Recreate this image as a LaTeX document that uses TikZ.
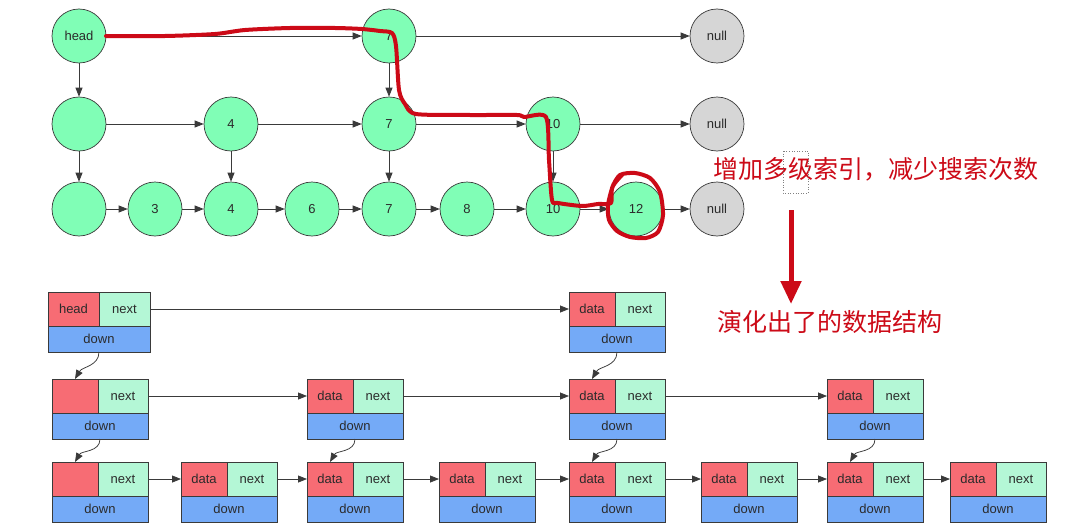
\documentclass[tikz,border=0pt]{standalone}
\usepackage{fontspec}
\setmainfont{Liberation Sans}
\newfontfamily\cjkfont{Noto Sans CJK SC}
\usepackage{xcolor}
\usetikzlibrary{arrows.meta,positioning}
\definecolor{LMint}{HTML}{80FEB6}
\definecolor{LGray}{HTML}{D6D6D6}
\definecolor{LEdge}{HTML}{3A3A3A}
\definecolor{LRed}{HTML}{F76C74}
\definecolor{LGreen}{HTML}{B4F7D6}
\definecolor{LBlue}{HTML}{74AAF7}
\definecolor{LMark}{HTML}{CC0A17}
\definecolor{LText}{HTML}{2B2B2B}
\newcommand{\skipbox}[4]{% name, left, top, data label
  \node[datacell,anchor=north west] (#1-d) at (#2,#3) {#4};
  \node[nextcell,anchor=north west] (#1-n) at (#1-d.north east) {next};
  \node[downcell,anchor=north west] (#1-w) at (#1-d.south west) {down};
}
\begin{document}
\begin{tikzpicture}[x=1pt,y=-1pt,
  every node/.style={font=\fontsize{13}{15}\selectfont,text=LText},
  knot/.style={circle,draw=LEdge,fill=LMint,line width=0.7pt,
    minimum size=54pt,inner sep=0pt},
  nil/.style={knot,fill=LGray},
  datacell/.style={draw=LEdge,fill=LRed,line width=0.7pt,minimum width=46pt,
    minimum height=34pt,inner sep=0pt,outer sep=0pt},
  nextcell/.style={datacell,fill=LGreen,minimum width=50pt},
  downcell/.style={datacell,fill=LBlue,minimum width=96pt,minimum height=26pt},
  arr/.style={-{Triangle[length=9pt,width=7pt]},line width=0.75pt,color=LEdge},
  note/.style={text=LMark,font=\cjkfont\fontsize{25}{30}\selectfont,inner sep=0pt},
  trail/.style={draw=LMark,line width=4pt,line cap=round,line join=round}
]
  \useasboundingbox[fill=white] (0,0) rectangle (1083,527);

  % skip list with index levels
  \node[knot] (k1-head) at (79,36) {head};
  \node[knot] (k1-7) at (389,36) {7};
  \node[nil] (k1-null) at (717,36) {null};

  \node[knot] (k2-0) at (79,124) {};
  \node[knot] (k2-4) at (231,124) {4};
  \node[knot] (k2-7) at (389,124) {7};
  \node[knot] (k2-10) at (553,124) {10};
  \node[nil] (k2-null) at (717,124) {null};

  \node[knot] (k3-0) at (79,209) {};
  \node[knot] (k3-3) at (155,209) {3};
  \node[knot] (k3-4) at (231,209) {4};
  \node[knot] (k3-6) at (312,209) {6};
  \node[knot] (k3-7) at (389,209) {7};
  \node[knot] (k3-8) at (467,209) {8};
  \node[knot] (k3-10) at (553,209) {10};
  \node[knot] (k3-12) at (636,209) {12};
  \node[nil] (k3-null) at (717,209) {null};

  \draw[arr] (k1-head) -- (k1-7);
  \draw[arr] (k1-7) -- (k1-null);
  \draw[arr] (k2-0) -- (k2-4);
  \draw[arr] (k2-4) -- (k2-7);
  \draw[arr] (k2-7) -- (k2-10);
  \draw[arr] (k2-10) -- (k2-null);
  \draw[arr] (k3-0) -- (k3-3);
  \draw[arr] (k3-3) -- (k3-4);
  \draw[arr] (k3-4) -- (k3-6);
  \draw[arr] (k3-6) -- (k3-7);
  \draw[arr] (k3-7) -- (k3-8);
  \draw[arr] (k3-8) -- (k3-10);
  \draw[arr] (k3-10) -- (k3-12);
  \draw[arr] (k3-12) -- (k3-null);

  \draw[arr] (k1-head) -- (k2-0);
  \draw[arr] (k2-0) -- (k3-0);
  \draw[arr] (k2-4) -- (k3-4);
  \draw[arr] (k1-7) -- (k2-7);
  \draw[arr] (k2-7) -- (k3-7);
  \draw[arr] (k2-10) -- (k3-10);

  % hand-drawn search path
  \draw[trail] plot[smooth,tension=0.45] coordinates {(106,36) (165,36)
    (215,34) (245,30) (290,28) (335,28) (362,29) (380,31) (392,33) (396,46)
    (399,90) (405,104) (416,114) (470,115) (517,115) (524,117) (546,117)
    (549,160) (552,200) (558,203) (582,206) (598,204) (611,203) (612,188)
    (620,175) (635,173) (650,178) (660,192) (663,215) (658,232) (646,238)
    (630,237) (617,231) (609,220) (608,205) (613,186) (622,175)};

  \node[note] (gain) at (876,169) {增加多级索引，减少搜索次数};
  \draw[dotted,gray,line width=0.6pt] (783,151) rectangle (808,193);
  \coordinate (evo-a) at (791,210);
  \coordinate (evo-b) at (791,304);
  \draw[LMark,line width=5pt,-{Triangle[length=23pt,width=20pt]}] (evo-a) -- (evo-b);
  \node[note] (evolved) at (830,322) {演化出了的数据结构};

  % node structure
  \node[datacell,minimum width=51pt,anchor=north west] (e1-h-d) at (48,292) {head};
  \node[nextcell,minimum width=51pt,anchor=north west] (e1-h-n) at (e1-h-d.north east) {next};
  \node[downcell,minimum width=102pt,anchor=north west] (e1-h-w) at (e1-h-d.south west) {down};
  \skipbox{e1-a}{569}{292}{data}

  \skipbox{e2-h}{52}{379}{}
  \skipbox{e2-a}{307}{379}{data}
  \skipbox{e2-b}{569}{379}{data}
  \skipbox{e2-c}{827}{379}{data}

  \skipbox{e3-h}{52}{462}{}
  \skipbox{e3-a}{181}{462}{data}
  \skipbox{e3-b}{307}{462}{data}
  \skipbox{e3-c}{439}{462}{data}
  \skipbox{e3-d}{569}{462}{data}
  \skipbox{e3-e}{701}{462}{data}
  \skipbox{e3-f}{827}{462}{data}
  \skipbox{e3-g}{950}{462}{data}

  \draw[arr] (e1-h-n) -- (e1-a-d);
  \draw[arr] (e2-h-n) -- (e2-a-d);
  \draw[arr] (e2-a-n) -- (e2-b-d);
  \draw[arr] (e2-b-n) -- (e2-c-d);
  \draw[arr] (e3-h-n) -- (e3-a-d);
  \draw[arr] (e3-a-n) -- (e3-b-d);
  \draw[arr] (e3-b-n) -- (e3-c-d);
  \draw[arr] (e3-c-n) -- (e3-d-d);
  \draw[arr] (e3-d-n) -- (e3-e-d);
  \draw[arr] (e3-e-n) -- (e3-f-d);
  \draw[arr] (e3-f-n) -- (e3-g-d);

  \draw[arr] (e1-h-w.south) to[out=-90,in=60] (e2-h-d.north);
  \draw[arr] (e2-h-w.south) to[out=-90,in=60] (e3-h-d.north);
  \draw[arr] (e1-a-w.south) to[out=-90,in=60] (e2-b-d.north);
  \draw[arr] (e2-b-w.south) to[out=-90,in=60] (e3-d-d.north);
  \draw[arr] (e2-a-w.south) to[out=-90,in=60] (e3-b-d.north);
  \draw[arr] (e2-c-w.south) to[out=-90,in=60] (e3-f-d.north);
\end{tikzpicture}
\end{document}
